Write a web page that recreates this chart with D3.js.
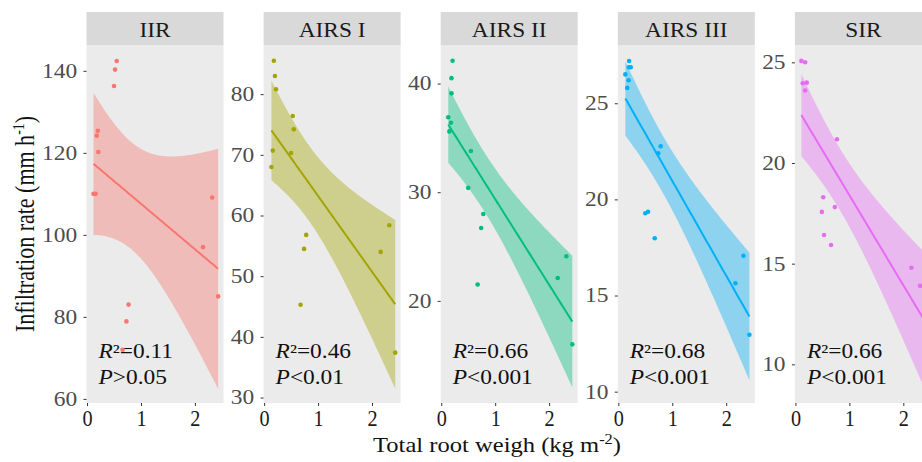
<!DOCTYPE html>
<html>
<head>
<meta charset="utf-8">
<script src="https://cdn.jsdelivr.net/npm/d3@7"></script>
<style>
  body { margin: 0; background: #fff; }
  svg { display: block; font-family: "Liberation Serif", "Times New Roman", serif; }
</style>
</head>
<body>
<div id="chart"></div>
<script>
const width = 922, height = 462;

// facet names, colours and annotation text
const facets = ["IIR", "AIRS I", "AIRS II", "AIRS III", "SIR"];
const colors = ["#F8766D", "#A3A500", "#00BF7D", "#00B0F6", "#E76BF3"];
const r2Labels = ["0.11", "0.46", "0.66", "0.68", "0.66"];
const pLabels = [">0.05", "<0.01", "<0.001", "<0.001", "<0.001"];

// total root weight (kg m-2) and infiltration rate (mm h-1)
const rootIIR = [0.12, 0.16, 0.18, 0.20, 0.21, 0.50, 0.52, 0.55, 0.66, 0.73, 0.77, 2.15, 2.32, 2.43];
const rateIIR = [110, 110, 124.2, 125.4, 120.2, 136.3, 140.3, 142.4, 72, 78.9, 83, 97, 109.1, 85];

const rootAIRS1 = [0.18, 0.20, 0.22, 0.53, 0.55, 0.16, 0.50, 0.135, 0.78, 0.74, 0.675, 2.32, 2.16, 2.43];
const rateAIRS1 = [85.5, 83.0, 80.8, 76.4, 74.2, 70.7, 70.3, 68.0, 56.8, 54.5, 45.3, 58.4, 54.0, 37.4];

const rootAIRS2 = [0.21, 0.19, 0.19, 0.13, 0.18, 0.15, 0.55, 0.50, 0.78, 0.74, 0.675, 2.32, 2.16, 2.43];
const rateAIRS2 = [42.1, 40.5, 39.1, 36.9, 36.4, 35.6, 33.8, 30.4, 28.0, 26.7, 21.5, 24.1, 22.1, 16.0];

const rootAIRS3 = [0.20, 0.195, 0.23, 0.13, 0.19, 0.165, 0.785, 0.74, 0.50, 0.55, 0.675, 2.32, 2.17, 2.43];
const rateAIRS3 = [27.2, 26.87, 26.87, 26.5, 26.2, 25.8, 22.76, 22.4, 19.28, 19.36, 17.98, 17.07, 15.64, 12.96];

const rootSIR = [0.11, 0.18, 0.135, 0.21, 0.18, 0.49, 0.515, 0.53, 0.66, 0.73, 0.77, 2.15, 2.31, 2.43];
const rateSIR = [25.07, 25.0, 23.96, 23.99, 23.6, 17.57, 18.3, 16.42, 15.93, 17.81, 21.18, 14.8, 13.9, 11.7];

// y limits and ticks of each facet (free scales)
const yDomains = [[59.0, 146.3], [29.1, 88.1], [10.6, 43.55], [9.41, 28.03], [8.08, 25.86]];
const yTicks = [[60, 80, 100, 120, 140], [30, 40, 50, 60, 70, 80], [20, 30, 40], [10, 15, 20, 25], [10, 15, 20, 25]];
const xDomain = [-0.01, 2.53];
const xTicks = [0, 1, 2];

const roots = [rootIIR, rootAIRS1, rootAIRS2, rootAIRS3, rootSIR];
const rates = [rateIIR, rateAIRS1, rateAIRS2, rateAIRS3, rateSIR];

const tCrit = 2.179; // t(0.975, df = 12)

const panelLeft = 86.5, panelStep = 177.1, panelW = 137;
const stripTop = 12, panelTop = 45, panelBottom = 403;
const wide = 1.17; // the source picture's text is a bit stretched sideways

// least squares fit with 95% confidence band, like geom_smooth(method = "lm")
function lmFit(xs, ys) {
  const n = xs.length, mx = d3.mean(xs), my = d3.mean(ys);
  let sxx = 0, sxy = 0;
  xs.forEach((x, i) => { sxx += (x - mx) * (x - mx); sxy += (x - mx) * (ys[i] - my); });
  const b = sxy / sxx, a = my - b * mx;
  let sse = 0;
  xs.forEach((x, i) => { const r = ys[i] - (a + b * x); sse += r * r; });
  const s = Math.sqrt(sse / (n - 2));
  const [x0, x1] = d3.extent(xs);
  return d3.range(0, 81).map(k => {
    const x = x0 + (x1 - x0) * k / 80;
    const yh = a + b * x;
    const se = s * Math.sqrt(1 / n + (x - mx) * (x - mx) / sxx);
    return { x: x, y: yh, lo: yh - tCrit * se, hi: yh + tCrit * se };
  });
}

const svg = d3.select("#chart").append("svg")
  .attr("width", width).attr("height", height);

facets.forEach((name, i) => {
  const left = panelLeft + i * panelStep;
  const x = d3.scaleLinear().domain(xDomain).range([left, left + panelW]);
  const y = d3.scaleLinear().domain(yDomains[i]).range([panelBottom, panelTop]);
  const col = colors[i];
  const g = svg.append("g");

  // strip
  g.append("rect").attr("x", left).attr("y", stripTop)
    .attr("width", panelW).attr("height", panelTop - stripTop).attr("fill", "#D9D9D9");
  g.append("text")
    .attr("transform", `translate(${left + panelW / 2},${stripTop + 25}) scale(${wide},1)`)
    .attr("text-anchor", "middle").attr("font-size", 20).attr("fill", "#1A1A1A").text(name);

  // panel
  g.append("rect").attr("x", left).attr("y", panelTop)
    .attr("width", panelW).attr("height", panelBottom - panelTop).attr("fill", "#EBEBEB");

  const fit = lmFit(roots[i], rates[i]);
  g.append("path").datum(fit)
    .attr("fill", col).attr("fill-opacity", 0.4)
    .attr("d", d3.area().x(d => x(d.x)).y0(d => y(d.lo)).y1(d => y(d.hi)));
  g.append("path").datum(fit)
    .attr("fill", "none").attr("stroke", col).attr("stroke-width", 2)
    .attr("d", d3.line().x(d => x(d.x)).y(d => y(d.y)));

  // annotation
  const t1 = g.append("text")
    .attr("transform", `translate(${left + 12},358) scale(${wide},1)`)
    .attr("font-size", 20).attr("fill", "#111");
  t1.append("tspan").attr("font-style", "italic").text("R");
  t1.append("tspan").text("²=" + r2Labels[i]);
  const t2 = g.append("text")
    .attr("transform", `translate(${left + 12},384) scale(${wide},1)`)
    .attr("font-size", 20).attr("fill", "#111");
  t2.append("tspan").attr("font-style", "italic").text("P");
  t2.append("tspan").text(pLabels[i]);

  g.selectAll("circle.pt").data(roots[i].map((r, k) => [r, rates[i][k]]))
    .join("circle").attr("class", "pt")
    .attr("cx", d => x(d[0])).attr("cy", d => y(d[1])).attr("r", 2.3).attr("fill", col);

  // axes
  const yAxis = g.append("g").attr("transform", `translate(${left},0)`)
    .call(d3.axisLeft(y).tickValues(yTicks[i]).tickSize(3).tickPadding(5));
  yAxis.select(".domain").remove();
  yAxis.selectAll("line").attr("stroke", "#333");
  yAxis.selectAll("text").attr("font-size", 20).attr("fill", "#4D4D4D")
    .attr("transform", `scale(${wide},1)`)
    .attr("font-family", "Liberation Serif, Times New Roman, serif");

  const xAxis = g.append("g").attr("transform", `translate(0,${panelBottom})`)
    .call(d3.axisBottom(x).tickValues(xTicks).tickFormat(d3.format("d")).tickSize(3).tickPadding(4));
  xAxis.select(".domain").remove();
  xAxis.selectAll("line").attr("stroke", "#333");
  xAxis.selectAll("text").attr("font-size", 23).attr("fill", "#1A1A1A")
    .attr("transform", "scale(0.88,1)")
    .attr("font-family", "Liberation Serif, Times New Roman, serif");
});

// axis titles
const yTitle = svg.append("text")
  .attr("transform", "translate(33.5,224) scale(1.25,1) rotate(-90)")
  .attr("text-anchor", "middle").attr("font-size", 22).attr("fill", "#111");
yTitle.append("tspan").text("Infiltration rate (mm h");
yTitle.append("tspan").attr("dy", -8).attr("font-size", 14).text("-1");
yTitle.append("tspan").attr("dy", 8).text(")");

const xTitle = svg.append("text")
  .attr("transform", `translate(497,452) scale(${wide},1)`)
  .attr("text-anchor", "middle").attr("font-size", 21).attr("fill", "#111");
xTitle.append("tspan").text("Total root weigh (kg m");
xTitle.append("tspan").attr("dy", -8).attr("font-size", 14).text("-2");
xTitle.append("tspan").attr("dy", 8).text(")");
</script>
</body>
</html>
